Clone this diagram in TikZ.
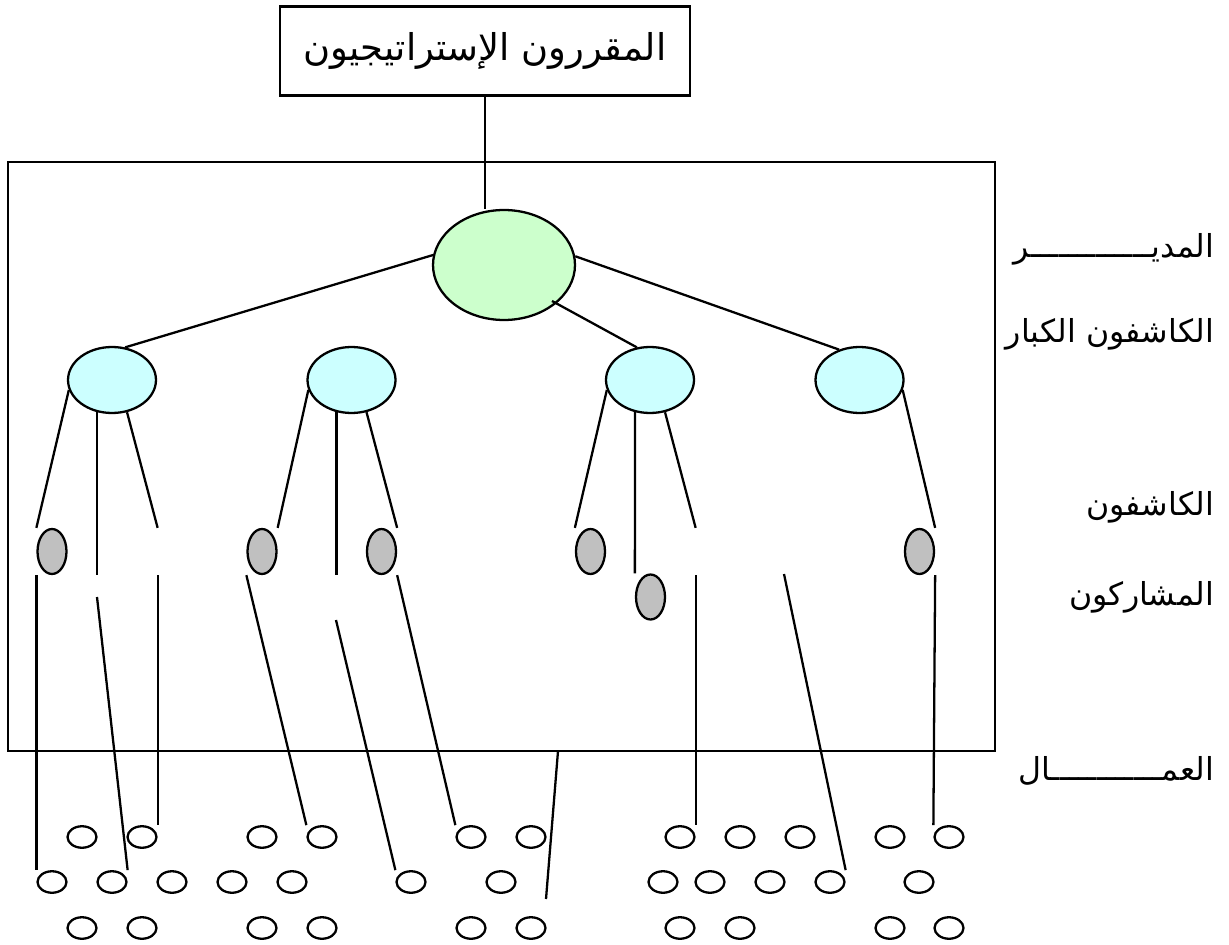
\documentclass[tikz,border=0pt]{standalone}
\usepackage{fontspec}
\newfontfamily\arabicfont[Script=Arabic]{DejaVu Sans}
\TeXXeTstate=1
\usetikzlibrary{shapes.geometric}

\definecolor{chiefgreen}{HTML}{CCFFCC}
\definecolor{scoutcyan}{HTML}{CCFFFF}
\definecolor{membergray}{HTML}{C0C0C0}

\tikzset{
  blob/.style={ellipse, draw, line width=1.3pt, inner sep=0pt},
  chief/.style={blob, fill=chiefgreen, minimum width=2.84cm, minimum height=2.2cm},
  scout/.style={blob, fill=scoutcyan, minimum width=1.76cm, minimum height=1.32cm},
  member/.style={blob, fill=membergray, minimum width=0.58cm, minimum height=0.9cm},
  worker/.style={blob, minimum width=0.58cm, minimum height=0.43cm},
  rank/.style={anchor=base east, inner sep=0pt, font=\arabicfont\fontsize{18}{22}\selectfont},
}

\begin{document}
\begin{tikzpicture}[x=0.02cm, y=-0.02cm, line width=1.3pt]
    \useasboundingbox (0,0) rectangle (1229,945);

    % Frame round the group
    \draw (8,162) rectangle (995,751);

    \node[draw, inner sep=0pt, minimum width=8.2cm, minimum height=1.78cm,
          font=\arabicfont\fontsize{21}{25}\selectfont] (top) at (485,51)
          {\beginR المقررون الإستراتيجيون\endR};

    \node[chief] (chief) at (504,265) {};
    \node[scout] (s1) at (112,380) {};
    \node[scout] (s2) at (351.5,380) {};
    \node[scout] (s3) at (650,380) {};
    \node[scout] (s4) at (859.5,380) {};

    \node[member] (p1) at (52,551.5) {};
    \node[member] (p2) at (262,551.5) {};
    \node[member] (p3) at (381.5,551.5) {};
    \node[member] (p4) at (590.5,551.5) {};
    \node[member] (p5) at (650.5,597) {};
    \node[member] (p6) at (919.5,551.5) {};

    % Workers, three rows
    \foreach \x [count=\i] in {82,142,262,322,471,531,680,740,800,890,949}
        \node[worker] (wa\i) at (\x,837) {};
    \foreach \x [count=\i] in {52,112,172,232,292,411,501,663,710,770,830,919}
        \node[worker] (wb\i) at (\x,882) {};
    \foreach \x [count=\i] in {82,142,262,322,471,531,680,740,890,949}
        \node[worker] (wc\i) at (\x,928) {};

    % Loose ends
    \coordinate (b1) at (97,597);
    \coordinate (b2) at (336,620);
    \coordinate (b3) at (784,574);
    \coordinate (cut) at (558,751);
    \coordinate (cutend) at (546,899);

    \draw (top.south) -- (top.south |- chief.north);
    \draw (chief.172) -- (s1.68);
    \draw ([shift={(48,36)}]chief.center) -- (s3.112);
    \draw (chief.7) -- (s4.124);

    \draw (s1.193) -- (p1.west |- p1.north);
    \draw (s1.245) -- (s1.245 |- p1.south);
    \draw (s1.295) -- (wa2.east |- p1.north);
    \draw (p1.west |- p1.south) -- (wb1.west |- wb1.north);
    \draw (b1) -- (wb2.east |- wb2.north);
    \draw (wa2.east |- p1.south) -- (wa2.east |- wa2.north);

    \draw (s2.193) -- (p2.east |- p2.north);
    \draw (s2.245) -- (s2.245 |- p2.south);
    \draw (s2.295) -- (p3.east |- p3.north);
    \draw (p2.west |- p2.south) -- (wa4.west |- wa4.north);
    \draw (b2) -- (wb6.west |- wb6.north);
    \draw (p3.east |- p3.south) -- (wa5.west |- wa5.north);

    \draw (s3.193) -- (p4.west |- p4.north);
    \draw (s3.245) -- (p5.west |- p5.north);
    \draw (s3.295) -- (wa7.east |- p4.north);
    \draw (wa7.east |- p4.south) -- (wa7.east |- wa7.north);
    \draw (b3) -- (wb11.east |- wb11.north);

    \draw (s4.347) -- (p6.east |- p6.north);
    \draw (p6.east |- p6.south) -- (wa11.west |- wa11.north);

    \draw (cut) -- (cutend);

    % Ranks on the right
    \node[rank] (r1) at (1215,258) {\beginR المديـــــــــــــر\endR};
    \node[rank] (r2) at (1215,343) {\beginR الكاشفون الكبار\endR};
    \node[rank] (r3) at (1215,515) {\beginR الكاشفون\endR};
    \node[rank] (r4) at (1215,605) {\beginR المشاركون\endR};
    \node[rank] (r5) at (1215,780) {\beginR العمــــــــــــال\endR};
\end{tikzpicture}
\end{document}
